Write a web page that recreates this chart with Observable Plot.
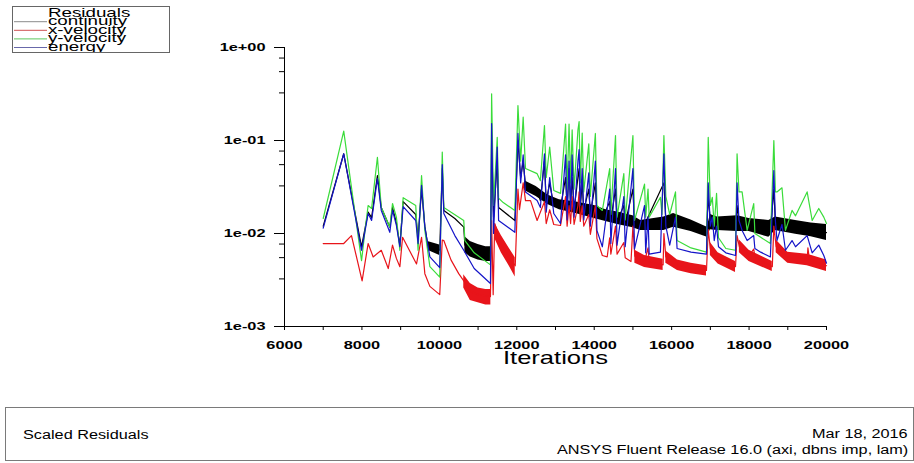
<!DOCTYPE html>
<html><head><meta charset="utf-8">
<script src="https://cdn.jsdelivr.net/npm/d3@7"></script>
<script src="https://cdn.jsdelivr.net/npm/@observablehq/plot@0.6"></script>
<style>
body{margin:0;background:#fff;font-family:"Liberation Sans",Arial,sans-serif;}
#wrap{position:relative;width:914px;height:463px;overflow:hidden;background:#fff;}
#chart{position:absolute;left:0;top:0;}
#legend{position:absolute;left:12px;top:6px;}
#footer{position:absolute;left:5px;top:407px;width:909px;height:54px;border:1px solid #7a7a7a;box-sizing:border-box;}
.ft{position:absolute;font-size:12.5px;line-height:14px;color:#000;white-space:nowrap;}
.fl{transform:scaleX(1.3);transform-origin:left center;}
.fr{transform:scaleX(1.3);transform-origin:right center;}
</style></head>
<body>
<div id="wrap">
  <div id="chart"></div>
  <svg id="legend" width="159" height="48">
    <defs><clipPath id="lc"><rect x="1" y="1" width="156" height="45"/></clipPath></defs>
    <rect x="0.5" y="0.5" width="157" height="46" fill="#fff" stroke="#666"/>
    <g id="legendItems" clip-path="url(#lc)" font-family="Liberation Sans, Arial, sans-serif" font-size="12.5" fill="#000"></g>
  </svg>
  <div id="footer">
    <span class="ft fl" style="left:17px;top:20px;">Scaled Residuals</span>
    <span class="ft fr" style="right:5px;top:19px;">Mar 18, 2016</span>
    <span class="ft fr" style="right:5px;top:35px;">ANSYS Fluent Release 16.0 (axi, dbns imp, lam)</span>
  </div>
</div>
<script>
// ---------- data ----------
const legendTitle = "Residuals";
const seriesNames = ["continuity", "x-velocity", "y-velocity", "energy"];
const majorX = [6000, 8000, 10000, 12000, 14000, 16000, 18000, 20000];
const minorX = [7000, 9000, 11000, 13000, 15000, 17000, 19000];
const majorY = [1e-3, 1e-2, 1e-1, 1];
const minorY = [0.77, 0.55, 0.325, 0.077, 0.055, 0.0325, 0.0077, 0.0055, 0.00325];
const xLabel = "Iterations";

// [iteration, residual]
const continuity = [[7000,0.012],[7530,0.072],[7990,0.0072],[8160,0.017],[8250,0.0148],[8400,0.042],[8500,0.019],[8720,0.0117],[8790,0.019],[8890,0.013],[8980,0.0075],[9065,0.022],[9390,0.016],[9450,0.009],[9540,0.03],[9625,0.012],[9700,0.0075],[9850,0.0072],[10010,0.0066],[10075,0.05],[10115,0.0177],[10400,0.0145],[10630,0.0117],[10660,0.0075],[10900,0.0064],[11320,0.006],[11350,0.1],[11400,0.015],[11495,0.06],[11530,0.019],[11950,0.0138],[12030,0.1],[12100,0.04],[12165,0.06],[12225,0.0327],[12525,0.029],[12610,0.0226],[12715,0.06],[12760,0.022],[12850,0.035],[12955,0.02],[13130,0.019],[13260,0.04],[13300,0.019],[13350,0.05],[13390,0.02],[13430,0.04],[13480,0.018],[13580,0.04],[13610,0.05],[13640,0.019],[13690,0.035],[13730,0.0177],[13860,0.03],[13900,0.016],[14030,0.035],[14070,0.0155],[14210,0.0145],[14400,0.022],[14430,0.014],[14550,0.03],[14590,0.0135],[14765,0.02],[14800,0.0128],[15000,0.03],[15040,0.013],[15300,0.0125],[15800,0.035],[15850,0.0135],[16100,0.014],[16500,0.012],[16900,0.0103],[16945,0.025],[17000,0.0135],[17400,0.0125],[17650,0.0112],[17690,0.02],[17740,0.013],[18100,0.0125],[18550,0.011],[18640,0.03],[18680,0.0128],[19200,0.0118],[19500,0.0115],[20000,0.0102]];
// [segment, iteration, low, high] noisy band of continuity
const continuityBand = [[0,9700,0.0066,0.0082],[0,10010,0.0058,0.0075],
  [1,10660,0.0062,0.0092],[1,10800,0.0056,0.0082],[1,11000,0.0052,0.0076],[1,11200,0.005,0.0072],[1,11330,0.005,0.0072],
  [2,12200,0.029,0.037],[2,12500,0.025,0.032],[2,12800,0.0205,0.026],[2,13100,0.018,0.023],[2,13500,0.0165,0.022],[2,14000,0.0145,0.02],[2,14300,0.0135,0.018],[2,14600,0.0125,0.017],[2,15000,0.0115,0.0155],[2,15200,0.0108,0.0138],[2,15800,0.0108,0.015],[2,16050,0.0117,0.0164],[2,16500,0.0105,0.014],[2,16920,0.0091,0.0117],[2,17000,0.011,0.016],[2,17180,0.0108,0.015],[2,17700,0.0105,0.0155],[2,18000,0.0105,0.0145],[2,18510,0.0091,0.0138],[2,18680,0.0108,0.015],[2,19200,0.0098,0.0138],[2,19600,0.0092,0.013],[2,20000,0.0084,0.0125]];

const xVelocity = [[7000,0.0078],[7530,0.0078],[7730,0.0095],[8005,0.0031],[8160,0.0078],[8290,0.0056],[8500,0.0066],[8680,0.0042],[8790,0.0075],[8890,0.0054],[8980,0.0044],[9050,0.0091],[9410,0.0047],[9540,0.0091],[9625,0.0037],[9755,0.0027],[10010,0.0022],[10075,0.0085],[10115,0.0084],[10300,0.0052],[10500,0.0037],[10630,0.0031],[10800,0.0024],[11000,0.0022],[11320,0.0021],[11350,0.0138],[11390,0.0022],[11430,0.0128],[11600,0.0077],[11800,0.0056],[11960,0.0045],[12030,0.03],[12070,0.018],[12165,0.035],[12225,0.0226],[12355,0.0226],[12525,0.0138],[12715,0.022],[12760,0.0128],[12850,0.018],[12955,0.0125],[13130,0.0122],[13260,0.025],[13300,0.012],[13350,0.02],[13390,0.0128],[13430,0.025],[13480,0.0125],[13580,0.02],[13610,0.028],[13640,0.0135],[13690,0.02],[13730,0.012],[13860,0.016],[13900,0.0098],[14030,0.02],[14070,0.0088],[14210,0.0058],[14335,0.0056],[14400,0.009],[14430,0.006],[14550,0.012],[14590,0.006],[14765,0.008],[14800,0.0055],[14950,0.005],[15000,0.012],[15050,0.0057],[15300,0.005],[15390,0.007],[15420,0.005],[15780,0.0046],[15800,0.01],[15850,0.0056],[16100,0.0052],[16150,0.0046],[16500,0.0042],[16900,0.004],[16945,0.011],[17000,0.0068],[17200,0.0054],[17400,0.0047],[17650,0.0044],[17690,0.0095],[17750,0.0072],[18000,0.0058],[18120,0.0068],[18150,0.0056],[18600,0.0044],[18640,0.012],[18700,0.0072],[19000,0.0055],[19110,0.006],[19500,0.0052],[19520,0.007],[19560,0.0052],[20000,0.0045]];
const xVelocityBand = [[0,10630,0.0026,0.0036],[0,10800,0.0019,0.0029],[0,11000,0.0018,0.0026],[0,11200,0.0017,0.0025],[0,11330,0.0017,0.0025],
  [1,11450,0.0085,0.0125],[1,11600,0.0062,0.0095],[1,11800,0.0045,0.007],[1,11960,0.0034,0.0055],
  [2,15050,0.0048,0.0066],[2,15300,0.0043,0.0058],[2,15780,0.004,0.0053],
  [3,15850,0.0048,0.0065],[3,16150,0.004,0.0052],[3,16500,0.0037,0.0048],[3,16900,0.0035,0.0045],
  [4,17000,0.0058,0.008],[4,17200,0.0047,0.0062],[4,17650,0.0038,0.005],
  [5,17750,0.0062,0.0085],[5,18000,0.005,0.0066],[5,18600,0.0039,0.005],
  [6,18700,0.0062,0.0085],[6,19000,0.0048,0.0063],[6,19500,0.0045,0.006],[6,20000,0.0039,0.0052]];

const yVelocity = [[7000,0.0145],[7530,0.126],[7990,0.0051],[8080,0.0108],[8160,0.02],[8250,0.0186],[8400,0.066],[8500,0.019],[8720,0.0117],[8790,0.021],[8890,0.015],[8980,0.0066],[9065,0.0243],[9390,0.02],[9450,0.0066],[9540,0.042],[9625,0.0108],[9755,0.0044],[10010,0.0034],[10075,0.075],[10115,0.019],[10630,0.0138],[10660,0.0084],[10900,0.0062],[11320,0.0046],[11350,0.318],[11400,0.02],[11495,0.108],[11530,0.024],[11650,0.0215],[11950,0.0177],[12030,0.238],[12100,0.06],[12165,0.178],[12225,0.05],[12525,0.044],[12610,0.037],[12715,0.145],[12760,0.04],[12850,0.085],[12955,0.029],[13130,0.027],[13260,0.15],[13300,0.03],[13350,0.15],[13390,0.035],[13430,0.13],[13480,0.03],[13580,0.13],[13610,0.16],[13640,0.035],[13690,0.12],[13730,0.028],[13860,0.092],[13900,0.025],[14030,0.119],[14070,0.02],[14210,0.0177],[14400,0.05],[14430,0.016],[14550,0.113],[14590,0.015],[14765,0.044],[14800,0.014],[15000,0.113],[15040,0.0138],[15300,0.034],[15330,0.015],[15390,0.03],[15420,0.015],[15710,0.0245],[15750,0.016],[15800,0.113],[15850,0.025],[15950,0.016],[16100,0.028],[16140,0.0084],[16500,0.007],[16900,0.0063],[16945,0.108],[17000,0.02],[17050,0.0245],[17100,0.012],[17160,0.027],[17210,0.009],[17400,0.0069],[17650,0.0066],[17690,0.072],[17740,0.028],[17820,0.028],[17950,0.0108],[18120,0.021],[18150,0.01],[18300,0.0091],[18550,0.0078],[18640,0.1],[18680,0.028],[18720,0.028],[18850,0.031],[18940,0.0108],[19110,0.0177],[19200,0.0155],[19500,0.028],[19630,0.0138],[19800,0.0186],[19930,0.015],[20000,0.0128]];

const energy = [[7000,0.0114],[7530,0.072],[7990,0.0066],[8160,0.0164],[8250,0.0138],[8400,0.039],[8500,0.0177],[8720,0.0103],[8790,0.0177],[8890,0.0122],[8980,0.0072],[9065,0.0195],[9390,0.0138],[9450,0.0078],[9540,0.033],[9625,0.0117],[9755,0.0056],[10010,0.0043],[10075,0.055],[10115,0.0164],[10400,0.0095],[10630,0.0066],[10900,0.0042],[11320,0.0029],[11350,0.152],[11400,0.01],[11495,0.085],[11530,0.0138],[11950,0.0103],[12030,0.119],[12100,0.035],[12165,0.07],[12225,0.028],[12525,0.0226],[12610,0.019],[12715,0.072],[12760,0.017],[12850,0.04],[12955,0.0164],[13130,0.0128],[13260,0.07],[13300,0.014],[13350,0.06],[13390,0.018],[13430,0.07],[13480,0.015],[13580,0.06],[13610,0.08],[13640,0.02],[13690,0.05],[13730,0.014],[13860,0.045],[13900,0.012],[14030,0.06],[14070,0.0108],[14210,0.0072],[14400,0.03],[14430,0.0078],[14550,0.05],[14590,0.0075],[14765,0.025],[14800,0.0072],[15000,0.05],[15040,0.0068],[15300,0.02],[15330,0.0062],[15390,0.015],[15420,0.006],[15710,0.0063],[15800,0.072],[15850,0.012],[15950,0.0075],[16100,0.015],[16140,0.0069],[16500,0.0063],[16900,0.006],[16945,0.035],[17000,0.012],[17050,0.015],[17100,0.0084],[17160,0.012],[17210,0.0072],[17400,0.0062],[17650,0.0058],[17690,0.035],[17740,0.0138],[17820,0.0108],[17950,0.0084],[18120,0.0095],[18150,0.0069],[18300,0.0063],[18550,0.0056],[18640,0.0476],[18680,0.0138],[18720,0.0084],[18850,0.0125],[18940,0.0066],[19110,0.0084],[19200,0.0072],[19500,0.0095],[19630,0.0062],[19800,0.0075],[19930,0.0058],[20000,0.0048]];

// ---------- styles ----------
const colors = {continuity: "#000000", x: "#e8141a", y: "#3adc3a", energy: "#1414c8"};
const legendColors = ["#8c8c8c", "#cf5050", "#5cc85c", "#6868aa"];
const fmtExp = d => { const e = Math.round(Math.log10(d)); return "1e" + (e < 0 ? "-" : "+") + String(Math.abs(e)).padStart(2, "0"); };

const chart = Plot.plot({
  width: 914, height: 400,
  marginLeft: 284, marginRight: 88, marginTop: 47, marginBottom: 74,
  style: {fontFamily: "Liberation Sans, Arial, sans-serif", background: "transparent", color: "#000"},
  x: {domain: [6000, 20000]},
  y: {type: "log", domain: [1e-3, 1]},
  marks: [
    Plot.areaY(continuityBand, {x: d => d[1], y1: d => d[2], y2: d => d[3], z: d => d[0], fill: colors.continuity}),
    Plot.line(continuity, {x: d => d[0], y: d => d[1], stroke: colors.continuity, strokeWidth: 1.2}),
    Plot.areaY(xVelocityBand, {x: d => d[1], y1: d => d[2], y2: d => d[3], z: d => d[0], fill: colors.x}),
    Plot.line(xVelocity, {x: d => d[0], y: d => d[1], stroke: colors.x, strokeWidth: 1.2}),
    Plot.line(yVelocity, {x: d => d[0], y: d => d[1], stroke: colors.y, strokeWidth: 1.2}),
    Plot.line(energy, {x: d => d[0], y: d => d[1], stroke: colors.energy, strokeWidth: 1.2}),
    Plot.ruleX([6000], {stroke: "#000"}),
    Plot.ruleY([1e-3], {stroke: "#000"}),
    Plot.axisY({ticks: majorY, tickFormat: fmtExp, tickSize: 10, tickPadding: 9, fontSize: 11.5, fontWeight: "bold", label: null}),
    Plot.axisY({ticks: minorY, tickFormat: () => "", tickSize: 5, label: null}),
    Plot.axisX({ticks: majorX, tickFormat: d => String(d), tickSize: 4, tickPadding: 10, fontSize: 11.5, fontWeight: "bold", label: null}),
    Plot.axisX({ticks: minorX, tickFormat: () => "", tickSize: 4, label: null}),
    Plot.text([xLabel], {text: d => d, frameAnchor: "bottom", dy: 37, fontSize: 18, fill: "#000"})
  ]
});
document.getElementById("chart").appendChild(chart);

// horizontal stretch of the text, as in the original export
chart.querySelectorAll('g[aria-label$="tick label"] text, g[aria-label="text"] text').forEach(t => {
  const ax = parseFloat(t.getAttribute("x") || 0);
  const tr = t.getAttribute("transform") || "";
  t.setAttribute("transform", `${tr} translate(${ax},0) scale(1.42,1) translate(${-ax},0)`);
});

// legend
const lg = document.getElementById("legendItems");
const ns = "http://www.w3.org/2000/svg";
const mk = (tag, attrs, txt) => { const e = document.createElementNS(ns, tag); for (const k in attrs) e.setAttribute(k, attrs[k]); if (txt) e.textContent = txt; lg.appendChild(e); return e; };
mk("text", {transform: "translate(36,10.8) scale(1.5,1)"}, legendTitle);
seriesNames.forEach((name, i) => {
  const ly = 15.7 + i * 8.6;
  mk("line", {x1: 2, x2: 35, y1: ly, y2: ly, stroke: legendColors[i], "stroke-width": 1});
  mk("text", {transform: `translate(36,${19.3 + i * 8.5}) scale(1.5,1)`}, name);
});
</script>
</body></html>
